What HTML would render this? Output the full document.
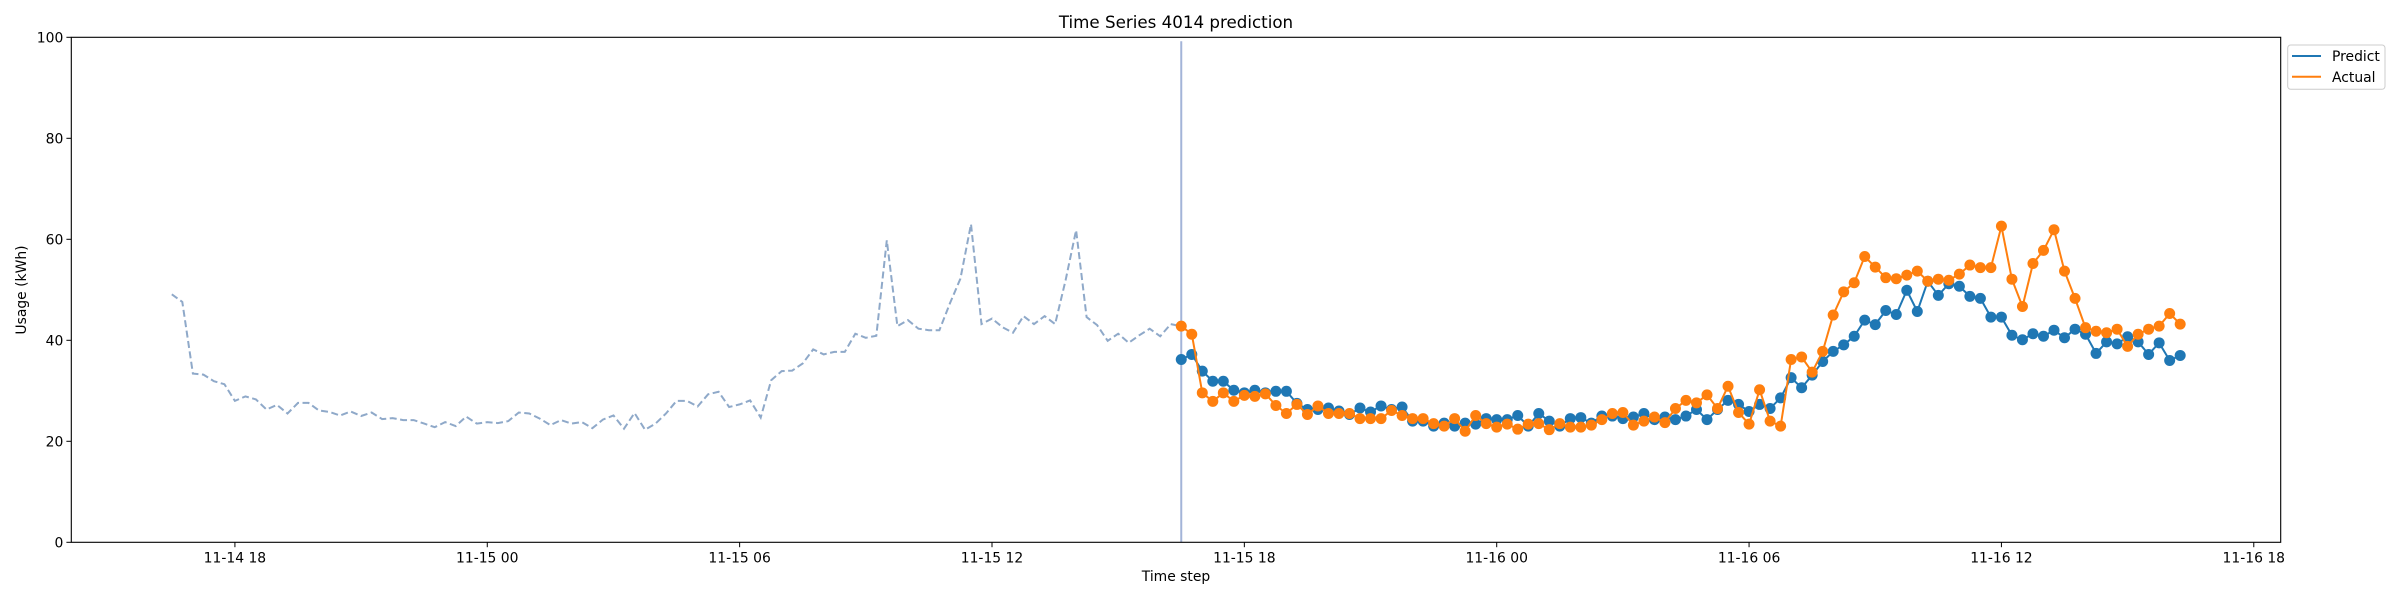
<!DOCTYPE html>
<html><head><meta charset="utf-8">
<style>
html,body{margin:0;padding:0;background:#fff;}
svg{display:block;font-family:"DejaVu Sans","Liberation Sans",sans-serif;}
</style></head>
<body>
<svg id="chart" width="2400" height="600" viewBox="0 0 2400 600" xmlns="http://www.w3.org/2000/svg">
<rect width="2400" height="600" fill="#fff"/>
<text x="1176" y="28" font-size="16.7" text-anchor="middle" fill="#000">Time Series 4014 prediction</text>
<text transform="translate(26,290) rotate(-90)" font-size="13.9" text-anchor="middle" fill="#000">Usage (kWh)</text>
<text x="1176" y="581" font-size="13.9" text-anchor="middle" fill="#000">Time step</text>
<g id="grid"></g>
<g id="marks"></g>
<rect x="71.3" y="37.3" width="2209.4" height="505" fill="none" stroke="#000" stroke-width="1.1"/>
<g>
<rect x="2287.7" y="45" width="97.3" height="44.3" rx="3" fill="#fff" stroke="#ccc" stroke-width="1"/>
<line x1="2292" y1="56" x2="2321" y2="56" stroke="#1f77b4" stroke-width="2"/>
<text x="2332" y="61" font-size="13.9" fill="#000">Predict</text>
<line x1="2292" y1="76.7" x2="2321" y2="76.7" stroke="#ff7f0e" stroke-width="2"/>
<text x="2332" y="82" font-size="13.9" fill="#000">Actual</text>
</g>
</svg>
<script>
const history = [49.1,47.6,33.4,33.2,31.9,31.3,28.0,28.9,28.3,26.3,27.2,25.5,27.6,27.6,26.1,25.8,25.1,25.9,25.0,25.7,24.4,24.6,24.2,24.2,23.5,22.8,23.8,23.0,24.9,23.5,23.8,23.6,24.0,
25.7,25.5,24.5,23.2,24.2,23.5,23.8,22.6,24.3,25.1,22.5,25.6,22.3,23.5,25.5,28.0,28.0,26.9,29.3,29.8,26.8,27.3,28.1,24.7,32.1,33.9,34.0,35.4,38.2,37.2,37.7,37.7,
41.3,40.5,40.9,59.8,42.8,44.0,42.3,42.0,42.0,47.3,52.2,63.0,43.2,44.3,42.6,41.5,44.8,43.2,44.8,43.2,51.9,61.8,44.6,43.0,39.9,41.3,39.5,41.0,42.3,40.8,43.2,42.8];
const predict = [36.2,37.2,33.9,31.9,31.9,30.1,29.6,30.1,29.6,29.9,29.9,27.5,26.3,26.3,26.6,26.0,25.3,26.6,25.8,27.0,26.3,26.8,24.0,24.0,23.0,23.6,23.0,23.6,23.4,24.5,24.3,24.3,25.1,
23.0,25.5,24.0,23.0,24.5,24.7,23.6,25.0,25.0,24.5,24.8,25.5,24.3,24.8,24.3,25.0,26.3,24.3,26.3,28.1,27.3,25.9,27.3,26.5,28.6,32.6,30.6,33.1,35.8,37.8,39.1,
40.8,44.0,43.1,45.9,45.1,49.9,45.7,51.7,48.9,51.2,50.7,48.7,48.3,44.6,44.6,41.0,40.1,41.3,40.8,42.0,40.5,42.2,41.2,37.4,39.7,39.3,40.7,39.7,37.2,39.5,36.0,37.0];
const actual = [42.8,41.2,29.6,27.9,29.6,27.9,29.1,28.9,29.4,27.1,25.5,27.3,25.3,27.0,25.5,25.5,25.5,24.5,24.5,24.5,26.1,25.1,24.5,24.5,23.5,23.0,24.5,22.0,25.1,23.5,22.8,23.4,22.4,
23.4,23.5,22.3,23.5,22.8,22.8,23.2,24.3,25.5,25.7,23.2,24.0,24.8,23.7,26.5,28.1,27.6,29.2,26.5,30.9,25.7,23.4,30.2,24.0,23.0,36.2,36.7,33.7,37.8,45.0,49.6,
51.4,56.6,54.5,52.4,52.2,52.9,53.7,51.7,52.1,51.9,53.1,54.9,54.4,54.4,62.6,52.1,46.7,55.2,57.8,61.9,53.7,48.3,42.5,41.8,41.5,42.2,38.8,41.2,42.2,42.8,45.3,43.2];
const historyStartHour = 16.5;   // hours from 11-14 00:00
const forecastStartHour = 40.5;
const stepHours = 0.25;
const xTickHours = [18,24,30,36,42,48,54,60,66];
const xTickLabels = ["11-14 18","11-15 00","11-15 06","11-15 12","11-15 18","11-16 00","11-16 06","11-16 12","11-16 18"];
const yTicks = [0,20,40,60,80,100];

const NS="http://www.w3.org/2000/svg";
const L=71.3,R=2280.7,T=37.3,B=542.3;
const X0=14.11,X1=66.64;
function xs(h){return L+(h-X0)/(X1-X0)*(R-L);}
function ys(v){return B-(v/100)*(B-T);}
function mk(tag,attrs,parent){const e=document.createElementNS(NS,tag);for(const k in attrs)e.setAttribute(k,attrs[k]);parent.appendChild(e);return e;}
const grid=document.getElementById('grid'), marks=document.getElementById('marks');

yTicks.forEach(v=>{
  const t=mk('line',{x1:L-4.9,x2:L,y1:ys(v),y2:ys(v),stroke:'#000','stroke-width':1},grid);
  
  
  const tx=mk('text',{x:L-8,y:ys(v)+5,'font-size':13.9,'text-anchor':'end',fill:'#000'},grid);
  tx.textContent=v;
  
  
});
xTickHours.forEach((h,i)=>{
  const t=mk('line',{x1:xs(h),x2:xs(h),y1:B,y2:B+4.9,stroke:'#000','stroke-width':1},grid);
  
  
  const tx=mk('text',{x:xs(h),y:B+20,'font-size':13.9,'text-anchor':'middle',fill:'#000'},grid);
  tx.textContent=xTickLabels[i];
  
  
});

// history dashed
const hp=history.map((v,i)=>xs(historyStartHour+i*stepHours).toFixed(1)+','+ys(v).toFixed(1)).join(' ');
const hl=mk('polyline',{points:hp,fill:'none',stroke:'#8fa9c9','stroke-width':2,'stroke-dasharray':'7,3.5'},marks);



// forecast start vertical line
const vl=mk('line',{x1:xs(forecastStartHour),x2:xs(forecastStartHour),y1:T+4,y2:B,stroke:'#a3b4d8','stroke-width':2},marks);



function series(arr,color,name){
  const pts=arr.map((v,i)=>xs(forecastStartHour+i*stepHours).toFixed(1)+','+ys(v).toFixed(1)).join(' ');
  const pl=mk('polyline',{points:pts,fill:'none',stroke:color,'stroke-width':2},marks);
  
  
  arr.forEach((v,i)=>{
    const c=mk('circle',{cx:xs(forecastStartHour+i*stepHours),cy:ys(v),r:5.5,fill:color},marks);
    
    
  });
}
series(predict,'#1f77b4','predict');
series(actual,'#ff7f0e','actual');
</script>
</body></html>
